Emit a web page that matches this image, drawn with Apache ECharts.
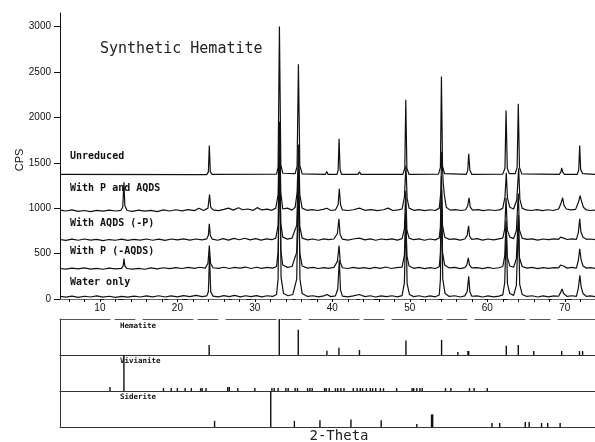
<!DOCTYPE html>
<html>
<head>
<meta charset="utf-8">
<script src="https://cdn.jsdelivr.net/npm/echarts@6/dist/echarts.min.js"></script>
<style>
html, body { margin: 0; padding: 0; background: #fff; }
#chart { width: 595px; height: 442px; }
</style>
</head>
<body>
<div id="chart"></div>
<script>
// 2-theta range shared by the pattern plot and the reference sticks
var thetaMin = 4.85, thetaMax = 73.9;
var xLabels = [10, 20, 30, 40, 50, 60, 70];
var xTicks = [6, 8, 10, 12, 14, 16, 18, 20, 22, 24, 26, 28, 30, 32, 34, 36, 38, 40, 42, 44, 46, 48, 50, 52, 54, 56, 58, 60, 62, 64, 66, 68, 70, 72];
var yLabels = [0, 500, 1000, 1500, 2000, 2500, 3000];

var traceNames = ["Unreduced", "With P and AQDS", "With AQDS (-P)", "With P (-AQDS)", "Water only"];
// vertical offset of each pattern in the stack (CPS)
var traceOffsets = [1370, 971, 651, 334, 20];

// [2-theta, counts above the pattern's own offset]
var unreduced = [
  [4.85,2],[23.8,0],[24.0,30],[24.12,320],[24.25,30],[24.5,2],
  [32.8,5],[33.0,80],[33.17,1630],[33.35,110],[33.6,15],
  [35.2,10],[35.45,90],[35.62,1215],[35.8,100],[36.1,8],
  [39.1,2],[39.28,35],[39.45,2],
  [40.6,2],[40.75,50],[40.87,395],[41.0,50],[41.2,2],
  [43.3,2],[43.5,30],[43.7,2],
  [49.1,2],[49.35,70],[49.48,825],[49.62,70],[49.9,2],
  [53.7,5],[53.95,80],[54.08,1080],[54.22,90],[54.5,10],
  [57.3,2],[57.48,50],[57.6,230],[57.75,50],[58.0,2],
  [62.0,5],[62.28,70],[62.42,705],[62.58,70],[62.85,10],
  [63.6,10],[63.85,80],[64.0,780],[64.15,80],[64.45,8],
  [69.3,2],[69.5,30],[69.6,75],[69.72,30],[69.95,2],
  [71.6,2],[71.8,50],[71.92,320],[72.05,60],[72.3,10],[72.5,2],
  [73.9,2]
];
var withPAqds = [
  [4.85,8],[5.6,-2],[6.4,10],[7.2,-6],[8.0,4],[8.8,-8],[9.6,6],[10.4,-4],[11.2,8],[12.0,-2],[12.7,6],
  [12.95,40],[13.1,315],[13.22,60],[13.5,4],
  [14.2,-6],[15.0,8],[15.8,-4],[16.6,6],[17.4,-8],[18.2,10],[19.0,-2],[19.8,12],[20.6,0],[21.4,14],[22.2,2],[22.8,28],[23.4,4],
  [23.95,30],[24.15,180],[24.3,40],[24.6,10],
  [25.3,2],[26.0,16],[26.6,30],[27.2,8],[27.9,34],[28.4,12],[29.1,20],[29.8,6],[30.3,35],[30.9,10],[31.6,18],[32.2,6],[32.7,30],
  [33.0,180],[33.18,980],[33.35,200],[33.6,20],[34.2,30],[34.8,8],[35.2,40],
  [35.45,200],[35.65,730],[35.8,180],[36.1,30],[36.7,6],[37.4,14],[38.1,4],[38.8,16],[39.3,28],[39.8,4],[40.4,10],
  [40.75,70],[40.9,243],[41.05,70],[41.3,10],[42.0,4],[42.7,12],[43.5,30],[44.2,6],[45.0,14],[45.8,2],[46.6,12],[47.2,30],[47.8,4],[48.5,10],[49.0,20],
  [49.3,150],[49.5,500],[49.65,140],[49.9,30],[50.5,6],[51.2,14],[51.9,2],[52.6,12],[53.3,4],[53.8,30],
  [54.0,200],[54.12,650],[54.3,320],[54.45,180],[54.7,40],[55.2,8],[55.9,14],[56.6,4],[57.2,12],
  [57.45,50],[57.65,144],[57.8,40],[58.1,8],[58.8,14],[59.5,2],[60.2,12],[60.9,4],[61.6,10],[62.0,30],
  [62.28,150],[62.45,420],[62.6,140],[62.9,40],[63.4,20],
  [63.8,120],[64.05,470],[64.2,130],[64.5,30],[65.0,10],[65.7,4],[66.4,14],[67.1,2],[67.8,12],[68.5,4],[69.2,20],
  [69.5,80],[69.72,144],[69.9,60],[70.2,20],[70.8,10],[71.4,16],
  [71.78,100],[71.98,166],[72.15,110],[72.4,40],[72.8,10],[73.3,4],[73.9,8]
];
var withAqds = [
  [4.85,4],[5.6,-6],[6.4,8],[7.2,-4],[8.0,10],[8.8,-2],[9.6,6],[10.4,-8],[11.2,4],[12.0,-4],[12.8,8],[13.6,-6],[14.4,6],[15.2,-2],[16.0,10],[16.8,-4],[17.6,8],[18.4,-6],[19.2,10],[20.0,0],[20.8,12],[21.6,-2],[22.4,10],[23.2,0],[23.8,12],
  [24.0,50],[24.12,177],[24.25,50],[24.5,8],
  [25.2,-4],[25.9,14],[26.6,-2],[27.3,16],[28.0,2],[28.7,18],[29.4,0],[30.1,14],[30.8,-2],[31.5,12],[32.2,2],[32.7,20],
  [33.0,160],[33.18,1060],[33.35,180],[33.6,30],[34.2,8],[34.8,20],
  [35.4,160],[35.63,790],[35.8,150],[36.1,20],[36.8,0],[37.5,10],[38.2,-4],[38.9,12],[39.5,2],[40.2,10],
  [40.65,70],[40.85,232],[41.0,60],[41.3,8],[42.0,-2],[42.7,10],[43.5,20],[44.2,0],[44.9,12],[45.6,-4],[46.3,10],[47.0,2],[47.7,12],[48.4,-2],[49.0,14],
  [49.3,120],[49.48,540],[49.62,110],[49.9,20],[50.5,2],[51.2,12],[51.9,-4],[52.6,10],[53.3,0],[53.8,20],
  [53.95,150],[54.08,700],[54.22,160],[54.5,30],[55.1,6],[55.8,12],[56.5,-2],[57.1,10],
  [57.4,50],[57.58,155],[57.72,40],[58.0,6],[58.7,14],[59.4,-2],[60.1,10],[60.8,0],[61.5,12],[62.0,20],
  [62.25,120],[62.42,460],[62.58,110],[62.9,30],[63.4,14],
  [63.75,100],[64.0,510],[64.15,110],[64.5,20],[65.1,6],[65.8,12],[66.5,-2],[67.2,10],[67.9,2],[68.6,12],[69.2,6],
  [69.45,30],[69.65,45],[69.85,20],[70.3,4],[70.9,12],[71.5,6],
  [71.75,80],[71.93,232],[72.08,90],[72.35,30],[72.8,6],[73.3,10],[73.9,4]
];
var withP = [
  [4.85,2],[5.6,-4],[6.4,6],[7.2,-2],[8.0,8],[8.8,-4],[9.6,4],[10.4,-6],[11.2,6],[12.0,-2],[12.8,4],
  [13.0,30],[13.1,110],[13.22,30],[13.5,2],
  [14.2,-4],[15.0,4],[15.8,-6],[16.6,8],[17.4,-2],[18.2,10],[19.0,0],[19.8,12],[20.6,2],[21.4,14],[22.2,4],[22.9,16],[23.6,6],
  [23.95,60],[24.12,255],[24.28,60],[24.6,10],
  [25.3,4],[26.0,16],[26.7,2],[27.4,14],[28.1,6],[28.8,18],[29.5,2],[30.2,16],[30.9,4],[31.6,14],[32.3,6],[32.8,24],
  [33.0,180],[33.18,1250],[33.35,200],[33.6,40],[34.2,14],[34.8,24],
  [35.4,180],[35.63,900],[35.8,170],[36.1,30],[36.8,6],[37.5,14],[38.2,2],[38.9,12],[39.5,4],[40.2,14],
  [40.65,80],[40.87,255],[41.02,70],[41.3,10],[42.0,2],[42.7,14],[43.4,4],[44.1,12],[44.8,0],[45.5,14],[46.2,4],[46.9,18],[47.6,2],[48.3,12],[49.0,16],
  [49.3,150],[49.48,620],[49.62,140],[49.9,30],[50.5,4],[51.2,14],[51.9,0],[52.6,12],[53.3,2],[53.8,22],
  [53.95,180],[54.08,800],[54.22,180],[54.5,40],[55.1,8],[55.8,14],[56.5,0],[57.1,12],
  [57.35,40],[57.55,120],[57.7,40],[58.0,8],[58.7,12],[59.4,0],[60.1,14],[60.8,2],[61.5,10],[62.0,24],
  [62.25,140],[62.42,530],[62.58,130],[62.9,30],[63.4,16],
  [63.75,110],[64.0,590],[64.15,120],[64.5,24],[65.1,6],[65.8,14],[66.5,0],[67.2,12],[67.9,4],[68.6,12],[69.2,8],
  [69.45,40],[69.65,60],[69.85,30],[70.3,6],[70.9,14],[71.5,6],
  [71.75,90],[71.93,220],[72.1,100],[72.35,30],[72.8,6],[73.3,12],[73.9,4]
];
var waterOnly = [
  [4.85,8],[5.6,0],[6.4,12],[7.2,-2],[8.0,10],[8.8,2],[9.6,14],[10.4,0],[11.2,10],[12.0,-2],[12.8,8],[13.6,0],[14.4,12],[15.2,2],[16.0,14],[16.8,4],[17.6,16],[18.4,2],[19.2,14],[20.0,4],[20.8,18],[21.6,6],[22.4,20],[23.2,6],[23.8,14],
  [24.0,60],[24.15,460],[24.3,60],[24.6,12],
  [25.3,4],[26.0,18],[26.7,6],[27.4,20],[28.1,4],[28.8,16],[29.5,6],[30.2,18],[30.9,4],[31.6,16],[32.3,8],[32.8,30],
  [33.0,200],[33.2,1830],[33.38,220],[33.7,40],[34.3,16],[34.9,30],
  [35.4,200],[35.65,1330],[35.82,200],[36.1,40],[36.8,8],[37.5,16],[38.2,4],[38.9,14],[39.3,30],[39.8,6],[40.4,14],
  [40.7,90],[40.9,410],[41.05,80],[41.3,12],[42.0,4],[42.7,14],[43.5,30],[44.2,6],[44.9,16],[45.6,2],[46.3,14],[47.0,6],[47.7,16],[48.4,4],[49.0,18],
  [49.3,160],[49.5,910],[49.65,150],[49.95,30],[50.5,6],[51.2,16],[51.9,2],[52.6,14],[53.3,4],[53.8,24],
  [53.95,200],[54.1,1180],[54.25,200],[54.55,40],[55.1,8],[55.8,16],[56.5,2],[57.1,14],
  [57.4,60],[57.6,230],[57.75,60],[58.0,10],[58.7,14],[59.4,2],[60.1,14],[60.8,4],[61.5,12],[62.0,26],
  [62.25,160],[62.45,780],[62.6,150],[62.9,40],[63.4,20],
  [63.75,130],[64.03,860],[64.18,140],[64.5,30],[65.1,8],[65.8,16],[66.5,2],[67.2,14],[67.9,4],[68.6,14],[69.2,10],
  [69.45,50],[69.65,90],[69.85,40],[70.3,8],[70.9,16],[71.5,8],
  [71.75,100],[71.95,240],[72.1,120],[72.35,40],[72.8,8],[73.3,14],[73.9,6]
];

// reference patterns: [2-theta, relative intensity %]
var phaseNames = ["Hematite", "Vivianite", "Siderite"];
var hematiteSticks = [[24.1,28],[33.15,100],[35.6,70],[39.3,12],[40.85,20],[43.5,14],[49.5,40],[54.1,42],[56.2,8],[57.5,11],[57.6,11],[62.45,26],[64.0,28],[66.0,11],[69.6,11],[71.9,11],[72.3,11]];
var vivianiteSticks = [[11.3,11],[13.1,100],[18.2,8],[19.2,8],[20.0,8],[21.0,8],[21.8,8],[23.0,8],[23.2,8],[23.7,8],[26.5,11],[26.7,11],[27.8,8],[30.0,8],[32.2,8],[32.5,8],[33.0,8],[34.0,8],[34.3,8],[35.2,8],[35.5,8],[36.8,8],[37.1,8],[37.4,8],[39.0,8],[39.2,8],[39.6,8],[40.4,8],[40.7,8],[41.1,8],[41.5,8],[42.7,8],[43.2,8],[43.6,8],[43.9,8],[44.4,8],[44.9,8],[45.2,8],[45.6,8],[46.2,8],[46.6,8],[48.3,8],[50.3,8],[50.5,8],[50.9,8],[51.3,8],[51.6,8],[54.6,8],[55.3,8],[57.7,8],[58.3,8],[60.0,8]];
var sideriteSticks = [[24.8,17],[32.05,100],[35.1,17],[38.4,19],[42.4,21],[46.3,19],[50.9,8],[52.8,35],[52.95,35],[60.6,11],[61.6,11],[64.9,14],[65.4,14],[67.0,11],[67.8,11],[69.4,11]];

var traces = [unreduced, withPAqds, withAqds, withP, waterOnly];
var sticks = [hematiteSticks, vivianiteSticks, sideriteSticks];

function shift(points, offset) {
  return points.map(function (p) { return [p[0], p[1] + offset]; });
}

var ink = "#111";
var chart = echarts.init(document.getElementById("chart"), null, { renderer: "canvas" });

var grids = [{ left: 60, right: 0, top: 13, height: 286 }];
var xAxes = [
  {
    gridIndex: 0, type: "value", min: thetaMin, max: thetaMax, position: "bottom",
    axisLine: { show: true, onZero: false, lineStyle: { color: ink, width: 1 } },
    axisTick: { show: true, customValues: xTicks, length: 3, lineStyle: { color: ink } },
    axisLabel: { customValues: xLabels, margin: 4, fontSize: 10, fontFamily: "Liberation Sans", color: ink },
    splitLine: { show: false }
  },
  {
    gridIndex: 0, type: "value", min: thetaMin, max: thetaMax, position: "top",
    axisLine: { show: true, lineStyle: { color: "#666", width: 1, type: [40, 4, 14, 6] } },
    axisTick: { show: false }, axisLabel: { show: false }, splitLine: { show: false }
  }
];
var yAxes = [{
  gridIndex: 0, type: "value", min: 0, max: 3150,
  axisLine: { show: true, lineStyle: { color: ink, width: 1 } },
  axisTick: { show: true, customValues: yLabels, length: 6, lineStyle: { color: ink } },
  axisLabel: {
    customValues: yLabels, margin: 9, fontSize: 10, fontFamily: "Liberation Sans", color: ink,
    formatter: function (v) { return String(v); }
  },
  splitLine: { show: false }
}];
var series = [];

traces.forEach(function (t, i) {
  series.push({
    type: "line", name: traceNames[i], xAxisIndex: 0, yAxisIndex: 0,
    data: shift(t, traceOffsets[i]),
    showSymbol: false, symbol: "none", animation: false,
    lineStyle: { color: ink, width: 1.2 }
  });
});

// three stick strips below the patterns
sticks.forEach(function (s, i) {
  var g = i + 1;
  grids.push({ left: 60, right: 0, top: 319 + i * 36, height: 36 });
  xAxes.push({
    gridIndex: g, type: "value", min: thetaMin, max: thetaMax, position: "bottom",
    axisLine: { show: true, lineStyle: { color: "#333", width: 1 } },
    axisTick: { show: false }, axisLabel: { show: false }, splitLine: { show: false }
  });
  yAxes.push({
    gridIndex: g, type: "value", min: 0, max: 100,
    axisLine: { show: true, lineStyle: { color: "#333", width: 1 } },
    axisTick: { show: false }, axisLabel: { show: false }, splitLine: { show: false }
  });
  series.push({
    type: "bar", name: phaseNames[i], xAxisIndex: xAxes.length - 1, yAxisIndex: yAxes.length - 1,
    data: s, barWidth: 1.4, animation: false,
    itemStyle: { color: ink }
  });
});
xAxes.push({
  gridIndex: 1, type: "value", min: thetaMin, max: thetaMax, position: "top",
  axisLine: { show: true, lineStyle: { color: "#555", width: 1, type: [50, 5, 20, 8] } },
  axisTick: { show: false }, axisLabel: { show: false }, splitLine: { show: false }
});

var mono = "\"DejaVu Sans Mono\", monospace";
var labelY = [156, 188, 223, 251, 282];
var graphics = [
  { type: "text", x: 100, y: 49, style: { text: "Synthetic Hematite", font: "15px " + mono, fill: "#222", verticalAlign: "middle" } },
  { type: "text", x: 20, y: 160, rotation: Math.PI / 2, style: { text: "CPS", font: "11px \"Liberation Sans\"", fill: ink, align: "center", verticalAlign: "middle" } },
  { type: "text", x: 339, y: 436, style: { text: "2-Theta", font: "14px " + mono, fill: "#222", align: "center", verticalAlign: "middle" } }
];
traceNames.forEach(function (n, i) {
  graphics.push({ type: "text", x: 70, y: labelY[i], style: { text: n, font: "bold 10px " + mono, fill: ink, verticalAlign: "middle" } });
});
phaseNames.forEach(function (n, i) {
  graphics.push({ type: "text", x: 120, y: 326 + i * 35.5, style: { text: n, font: "bold 7.5px " + mono, fill: ink, verticalAlign: "middle" } });
});

chart.setOption({
  animation: false,
  backgroundColor: "#fff",
  grid: grids,
  xAxis: xAxes,
  yAxis: yAxes,
  series: series,
  graphic: graphics
});
</script>
</body>
</html>
